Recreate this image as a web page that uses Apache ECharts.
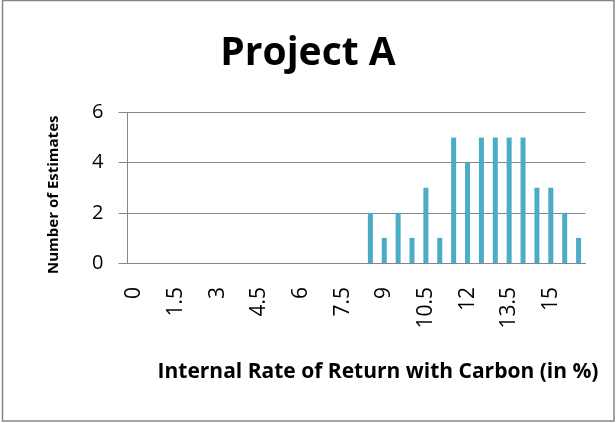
<!DOCTYPE html>
<html>
<head>
<meta charset="utf-8">
<script src="https://cdn.jsdelivr.net/npm/echarts@6/dist/echarts.min.js"></script>
<style>
html,body{margin:0;padding:0;background:#fff;}
#chart{width:616px;height:423px;}
</style>
</head>
<body>
<div id="chart"></div>
<script>
// Categories: IRR with carbon (in %), step 0.5
const categories = ['0','0.5','1','1.5','2','2.5','3','3.5','4','4.5','5','5.5','6','6.5','7','7.5','8','8.5','9','9.5','10','10.5','11','11.5','12','12.5','13','13.5','14','14.5','15','15.5','16'];
// Number of estimates per category
const estimates = [0,0,0,0,0,0,0,0,0,0,0,0,0,0,0,0,0,2,1,2,1,3,1,5,4,5,5,5,5,3,3,2,1];
const yTicks = [0, 2, 4, 6];

const chart = echarts.init(document.getElementById('chart'), null, {renderer: 'canvas'});
const font = 'Open Sans';
chart.setOption({
  animation: false,
  backgroundColor: '#ffffff',
  title: {
    text: 'Project A',
    left: 'center',
    top: 29,
    textStyle: {fontFamily: font, fontWeight: 'bold', fontSize: 39, color: '#000'}
  },
  graphic: [{
    type: 'rect',
    shape: {x: 2.5, y: 0.5, width: 611.5, height: 420.5},
    style: {fill: 'none', stroke: '#868686', lineWidth: 1.5},
    silent: true
  }],
  grid: {left: 127.5, right: 30.5, top: 112.5, bottom: 160},
  xAxis: {
    type: 'category',
    data: categories,
    name: 'Internal Rate of Return with Carbon (in %)',
    nameLocation: 'middle',
    nameGap: 99,
    nameTextStyle: {fontFamily: font, fontWeight: 'bold', fontSize: 21, color: '#000', padding: [0, 0, 0, 43]},
    axisLine: {lineStyle: {color: '#868686', width: 1}},
    axisTick: {show: false},
    axisLabel: {interval: 2, rotate: 90, margin: 24, fontFamily: font, fontSize: 21, color: '#000'}
  },
  yAxis: {
    type: 'value',
    min: 0,
    max: 6,
    interval: 2,
    name: 'Number of Estimates',
    nameLocation: 'middle',
    nameGap: 66,
    nameTextStyle: {fontFamily: font, fontWeight: 'bold', fontSize: 15, color: '#000', padding: [0, 14, 0, 0]},
    axisLine: {show: true, lineStyle: {color: '#868686', width: 1}},
    axisTick: {show: true, inside: false, length: 9, lineStyle: {color: '#868686'}},
    axisLabel: {margin: 24, fontFamily: font, fontSize: 20, color: '#000',
      formatter: v => yTicks.includes(v) ? String(v) : ''},
    splitLine: {lineStyle: {color: '#868686', width: 1}}
  },
  series: [{
    type: 'bar',
    data: estimates,
    barWidth: 5,
    itemStyle: {color: '#4BACC6'}
  }]
});
</script>
</body>
</html>
